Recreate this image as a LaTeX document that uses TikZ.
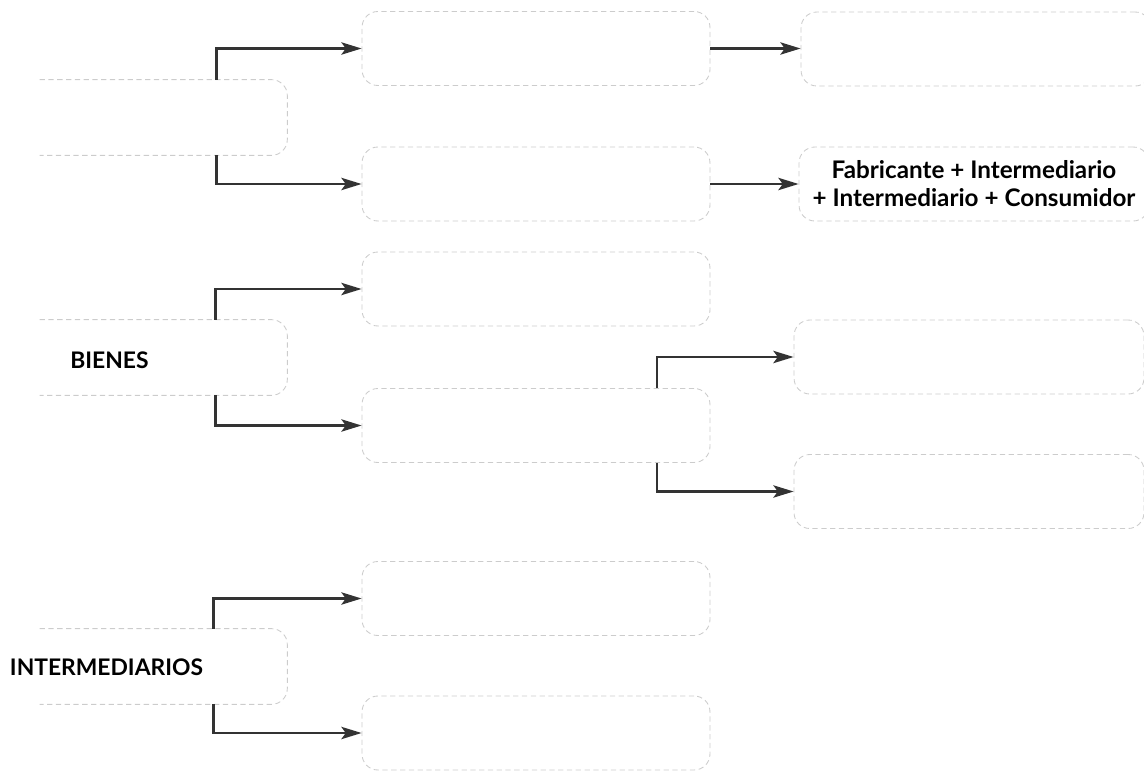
\documentclass[tikz,border=0pt]{standalone}
\usepackage{fontspec}
\setsansfont{Lato}
\usetikzlibrary{positioning,calc,arrows.meta}
\tikzset{font=\sffamily\bfseries}
\tikzset{
	caja/.style={rounded corners=9pt, minimum width=6.96cm, minimum height=1.48cm, inner sep=0pt},
	borde/.style={draw=gray!40, densely dashed, line width=0.5pt},
	flecha/.style={-{Stealth[length=11.5pt,width=7pt,inset=2.5pt]}, draw=black!80, line width=1.4pt},
}

\begin{document}
\begin{tikzpicture}[x=0.02cm, y=-0.02cm]
	\useasboundingbox (0,0) rectangle (1144,771);
	\clip (0,0) rectangle (1144,771);
	\begin{scope}
		\tikzstyle{every node}=[align=center, inner sep=1pt]
		\node[caja, minimum width=4.94cm, minimum height=1.5cm] (l1) at (163.5, 117.5) {};
		\node[caja, minimum width=4.94cm, minimum height=1.5cm] (l2) at (163.5, 357.5) {};
		\node[caja, minimum width=4.94cm, minimum height=1.5cm] (l3) at (163.5, 666.5) {};
		\node[font=\sffamily\bfseries\fontsize{13}{15}\selectfont] (bienes) at (109.5, 360) {BIENES};
		\node[font=\sffamily\bfseries\fontsize{13}{15}\selectfont] (intermediarios) at (106.5, 667) {INTERMEDIARIOS};

		\node[caja, borde] (m1) at (536, 48.5) {};
		\node[caja, borde] (m2) at (536, 184) {};
		\node[caja, borde] (m3) at (536, 289) {};
		\node[caja, borde] (m4) at (536, 425.5) {};
		\node[caja, borde] (m5) at (536, 598.5) {};
		\node[caja, borde] (m6) at (536, 733) {};

		\node[caja, borde, minimum width=7cm] (r1) at (976, 49) {};
		\node[caja, borde, minimum width=7cm, font=\sffamily\bfseries\fontsize{13.8}{16}\selectfont] (r2) at (974, 184) {Fabricante + Intermediario\\+ Intermediario + Consumidor};
		\node[caja, borde, minimum width=7cm] (r3) at (969, 357) {};
		\node[caja, borde, minimum width=7cm] (r4) at (969, 491.5) {};

		\draw[borde, rounded corners=9pt] (l1.north west) -- (l1.north east) -- (l1.south east) -- (l1.south west);
		\draw[borde, rounded corners=9pt] (l2.north west) -- (l2.north east) -- (l2.south east) -- (l2.south west);
		\draw[borde, rounded corners=9pt] (l3.north west) -- (l3.north east) -- (l3.south east) -- (l3.south west);

		\draw[flecha] ($(l1.north)+(53,0)$) |- (m1.west);
		\draw[flecha] ($(l1.south)+(53,0)$) |- (m2.west);
		\draw[flecha] ($(l2.north)+(52,0)$) |- (m3.west);
		\draw[flecha] ($(l2.south)+(52,0)$) |- (m4.west);
		\draw[flecha] ($(l3.north)+(50,0)$) |- (m5.west);
		\draw[flecha] ($(l3.south)+(50,0)$) |- (m6.west);

		\draw[flecha] (m1.east) -- (m1.east -| r1.west);
		\draw[flecha] (m2.east) -- (m2.east -| r2.west);
		\draw[flecha] ($(m4.north)+(121,0)$) |- (r3.west);
		\draw[flecha] ($(m4.south)+(121,0)$) |- (r4.west);
	\end{scope}
\end{tikzpicture}
\end{document}
